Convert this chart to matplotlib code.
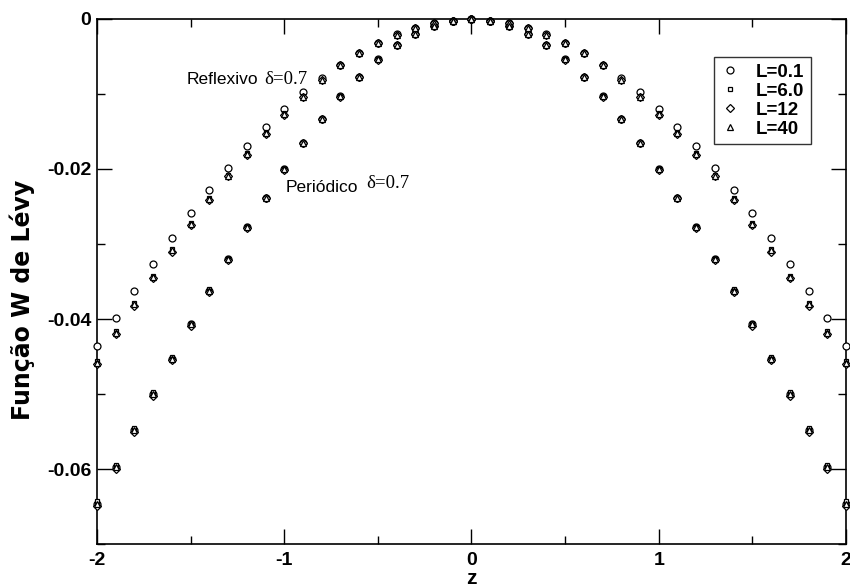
import matplotlib
matplotlib.use("Agg")
import matplotlib.pyplot as plt
import numpy as np

# z from -2 to 0 (curves are symmetric about z = 0)
z_half = [-2.0, -1.9, -1.8, -1.7, -1.6, -1.5, -1.4, -1.3, -1.2, -1.1, -1.0,
          -0.9, -0.8, -0.7, -0.6, -0.5, -0.4, -0.3, -0.2, -0.1, 0.0]

# Reflexivo, delta = 0.7
ref_L01 = [-0.0436, -0.0398, -0.0362, -0.0327, -0.0292, -0.0259, -0.0228, -0.0199, -0.0170, -0.0144, -0.0120,
           -0.0098, -0.0079, -0.0061, -0.0045, -0.0032, -0.0020, -0.0012, -0.0006, -0.0003, 0.0]
ref_L6 = [-0.0456, -0.0416, -0.0378, -0.0342, -0.0307, -0.0272, -0.0239, -0.0208, -0.0179, -0.0151, -0.0126,
          -0.0103, -0.0081, -0.0062, -0.0045, -0.0032, -0.0021, -0.0012, -0.0006, -0.0003, 0.0]
ref_L12 = [-0.0460, -0.0420, -0.0382, -0.0345, -0.0310, -0.0274, -0.0241, -0.0210, -0.0181, -0.0153, -0.0128,
           -0.0104, -0.0082, -0.0062, -0.0046, -0.0032, -0.0021, -0.0012, -0.0006, -0.0003, 0.0]
ref_L40 = [-0.0458, -0.0418, -0.0380, -0.0344, -0.0308, -0.0273, -0.0240, -0.0209, -0.0180, -0.0152, -0.0127,
           -0.0104, -0.0081, -0.0062, -0.0045, -0.0032, -0.0021, -0.0012, -0.0006, -0.0003, 0.0]

# Periodico, delta = 0.7
per_L01 = [-0.0646, -0.0597, -0.0548, -0.0500, -0.0453, -0.0407, -0.0362, -0.0320, -0.0277, -0.0238, -0.0200,
           -0.0165, -0.0133, -0.0103, -0.0077, -0.0054, -0.0035, -0.0020, -0.0010, -0.0003, 0.0]
per_L6 = [-0.0643, -0.0594, -0.0545, -0.0497, -0.0451, -0.0405, -0.0360, -0.0318, -0.0276, -0.0237, -0.0199,
          -0.0164, -0.0132, -0.0103, -0.0077, -0.0054, -0.0035, -0.0020, -0.0010, -0.0003, 0.0]
per_L12 = [-0.0649, -0.0600, -0.0551, -0.0503, -0.0455, -0.0409, -0.0364, -0.0321, -0.0278, -0.0239, -0.0201,
           -0.0166, -0.0134, -0.0104, -0.0078, -0.0055, -0.0035, -0.0020, -0.0010, -0.0003, 0.0]
per_L40 = [-0.0646, -0.0597, -0.0548, -0.0500, -0.0453, -0.0407, -0.0362, -0.0320, -0.0277, -0.0238, -0.0200,
           -0.0165, -0.0133, -0.0103, -0.0077, -0.0054, -0.0035, -0.0020, -0.0010, -0.0003, 0.0]

labels = ['L=0.1', 'L=6.0', 'L=12', 'L=40']
markers = ['o', 's', 'D', '^']
msizes = [5.0, 3.4, 3.6, 4.2]


def full(half):
    # mirror the left half onto z > 0
    h = list(half)
    return np.array(h + h[-2::-1])


z = np.array(z_half + [-v for v in z_half[-2::-1]])

plt.rcParams['font.family'] = ['Liberation Sans', 'DejaVu Sans']

fig = plt.figure(figsize=(8.5, 5.88), dpi=100)
ax = fig.add_axes([0.1141, 0.0748, 0.8812, 0.8929])

ref = [ref_L01, ref_L6, ref_L12, ref_L40]
per = [per_L01, per_L6, per_L12, per_L40]
for i in range(4):
    kw = dict(ls='none', marker=markers[i], ms=msizes[i], mfc='white', mec='black',
              mew=0.9, clip_on=False, zorder=3)
    ax.plot(z, full(ref[i]), label=labels[i], **kw)
    ax.plot(z, full(per[i]), **kw)

ax.set_xlim(-2, 2)
ax.set_ylim(-0.07, 0)
ax.set_xticks([-2, -1, 0, 1, 2])
ax.set_xticks([-1.5, -0.5, 0.5, 1.5], minor=True)
ax.set_yticks([0, -0.02, -0.04, -0.06])
ax.set_yticks([-0.01, -0.03, -0.05, -0.07], minor=True)
ax.set_yticklabels(['0', '-0.02', '-0.04', '-0.06'])
ax.set_xticklabels(['-2', '-1', '0', '1', '2'])

ax.tick_params(which='both', direction='in', top=True, right=True, width=1.0)
ax.tick_params(which='major', length=11, labelsize=14)
ax.tick_params(axis='x', which='major', pad=6)
ax.tick_params(axis='y', which='major', pad=4)
ax.tick_params(which='minor', length=6)
for lab in ax.get_xticklabels() + ax.get_yticklabels():
    lab.set_fontweight('bold')
for sp in ax.spines.values():
    sp.set_linewidth(1.2)

ax.set_xlabel('z', fontsize=15, fontweight='bold', labelpad=0)
ax.set_ylabel('Função W de Lévy', fontsize=17, fontweight='bold', family='DejaVu Sans')
ax.yaxis.set_label_coords(-0.083, 0.465)

ax.text(-1.519, -0.00867, 'Reflexivo', fontsize=12.5, va='baseline', ha='left')
ax.text(-1.108, -0.00867, 'δ=0.7', fontsize=13.5, va='baseline', ha='left', family='Liberation Serif')
ax.text(-0.991, -0.02303, 'Periódico', fontsize=12.5, va='baseline', ha='left')
ax.text(-0.563, -0.02257, 'δ=0.7', fontsize=13.5, va='baseline', ha='left', family='Liberation Serif')

leg = ax.legend(loc='upper right', bbox_to_anchor=(0.9533, 0.9276), frameon=True, fancybox=False,
                edgecolor='black', handletextpad=0.9, borderpad=0.35, labelspacing=0.1,
                handlelength=1.0, borderaxespad=0, prop={'weight': 'bold', 'size': 13.5})
leg.get_frame().set_linewidth(1.0)

fig.savefig('out.png', dpi=100)
